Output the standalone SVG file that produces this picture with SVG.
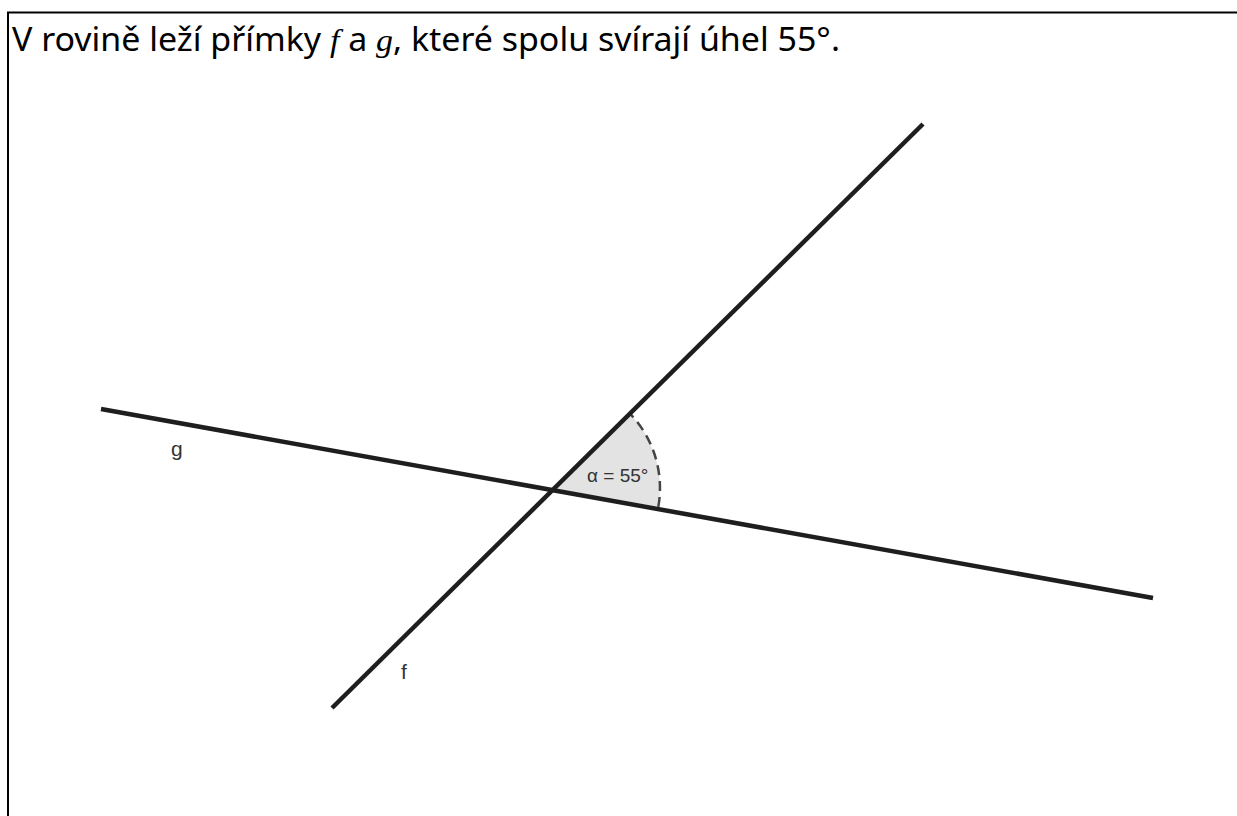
<svg xmlns="http://www.w3.org/2000/svg" width="1237" height="816" viewBox="0 0 1237 816">
<style>
.frame{fill:none;stroke:#000;stroke-width:2}
.line{stroke:#1e1e1e;stroke-width:4.5;stroke-linecap:butt}
.lbl{font-family:"Liberation Sans",Arial,sans-serif;font-size:19px;fill:#333}
.big{font-size:21px}
.title{font-family:"Noto Sans","Open Sans",sans-serif;font-size:32px;fill:#000}
.it{font-family:"Liberation Serif","Times New Roman",serif;font-style:italic}
</style>
<rect width="1237" height="816" fill="#fff"/>
<path class="frame" d="M8,816 V12.5 H1237"/>
<text class="title" x="12" y="51" textLength="828" lengthAdjust="spacingAndGlyphs">V rovině leží přímky <tspan class="it">f</tspan> a <tspan class="it">g</tspan>, které spolu svírají úhel 55°.</text>
<g id="angle">
<path d="M553,488 L658.3,506.9 A107,107 0 0 0 629,412.7 Z" fill="#e3e3e3" stroke="none"/>
<path d="M658.3,506.9 A107,107 0 0 0 629,412.7" fill="none" stroke="#444" stroke-width="2.5" stroke-dasharray="10,6"/>
<text class="lbl" x="587" y="482">α = 55°</text>
</g>
<g id="connectors">
<line id="g" class="line" x1="101" y1="409" x2="1153" y2="598"/>
<line id="f" class="line" x1="332" y1="708" x2="923" y2="124"/>
</g>
<g id="labels">
<text class="lbl big" x="171" y="456">g</text>
<text class="lbl big" x="401" y="679">f</text>
</g>
</svg>
